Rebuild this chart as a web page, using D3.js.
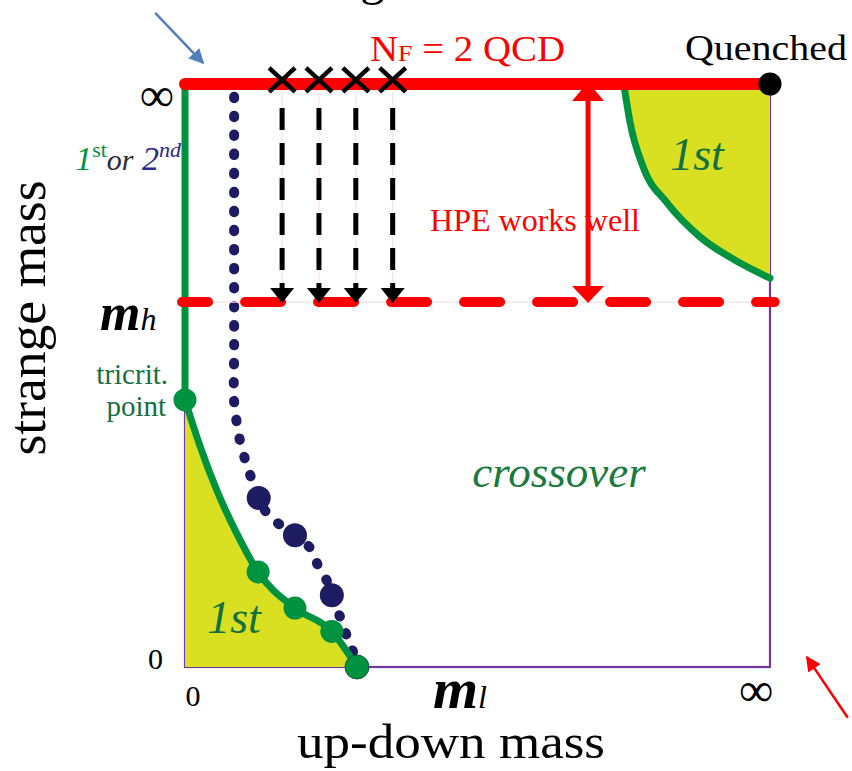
<!DOCTYPE html>
<html>
<head>
<meta charset="utf-8">
<script src="https://cdn.jsdelivr.net/npm/d3@7"></script>
<style>
  body { margin: 0; background: #fff; }
</style>
</head>
<body>
<svg id="canvas"></svg>
<script>
const WIDTH = 852;
const HEIGHT = 771;
const SERIF = "'Liberation Serif', 'DejaVu Serif', serif";

// axes run 0..100 (0 = zero mass, 100 = infinite mass)
const mh = 62.6;

const lowerCurve = [
  [0, 45.8], [2.6, 37.8], [5.4, 30.4], [8.8, 23.0], [12.5, 16.3],
  [18.8, 10.1], [25.1, 6.1], [29.4, 0],
];
const lowerCurveDots = [
  [0, 45.8], [12.5, 16.3], [18.8, 10.1], [25.1, 6.1], [29.4, 0],
];

const upperCurve = [
  [75.0, 100], [76.1, 93.3], [78.3, 85.8], [82.4, 79.6], [88.0, 73.8],
  [94.9, 69.3], [100, 66.7],
];

const secondOrderLine = [
  [8.4, 97.8], [8.4, 55.1], [8.4, 45.5], [8.8, 42.2], [9.4, 38.8],
  [10.3, 35.5], [11.4, 32.2], [12.6, 29.0], [14.0, 26.4], [16.2, 24.4],
  [18.8, 22.6], [21.4, 20.4], [22.7, 17.5], [24.2, 14.9], [25.1, 12.3],
  [26.5, 8.6], [27.6, 5.5], [28.5, 3.4], [29.2, 0],
];
const secondOrderDots = [[12.6, 29.0], [18.8, 22.6], [25.1, 12.3]];

const crossMasses = [16.6, 22.9, 29.2, 35.5];
const hpeArrowMass = 68.9;

const xTicks = [0, 47, 100];
const xTickLabels = ["0", "m_l", "∞"];
const yTicks = [0, mh, 100];
const yTickLabels = ["0", "m_h", "∞"];

const RED = "#ff0000";
const GREEN = "#00933f";
const NAVY = "#1d1b62";
const YELLOW = "#d9e021";
const PURPLE = "#7038a0";
const TEXT_GREEN = "#137040";

const canvas = d3
  .select("#canvas")
  .attr("width", WIDTH)
  .attr("height", HEIGHT)
  .attr("font-family", SERIF);

const xScale = d3.scaleLinear().domain([0, 100]).range([185, 770]);
const yScale = d3.scaleLinear().domain([0, 100]).range([667, 84]);

const line = d3.line().x((d) => xScale(d[0])).y((d) => yScale(d[1]));

// frame
canvas
  .append("rect")
  .attr("x", xScale(0))
  .attr("y", yScale(100))
  .attr("width", xScale(100) - xScale(0))
  .attr("height", yScale(0) - yScale(100))
  .attr("fill", "none")
  .attr("stroke", PURPLE)
  .attr("stroke-width", 2.2);

// first order regions
canvas
  .append("path")
  .attr("d", line.curve(d3.curveMonotoneX)([[0, 0], ...lowerCurve]))
  .attr("fill", YELLOW);

canvas
  .append("path")
  .attr("d", line.curve(d3.curveMonotoneX)([...upperCurve, [100, 100]]))
  .attr("fill", YELLOW);

// 2nd order line (dotted)
canvas
  .append("path")
  .attr("d", line.curve(d3.curveCatmullRom)(secondOrderLine))
  .attr("fill", "none")
  .attr("stroke", NAVY)
  .attr("stroke-width", 10)
  .attr("stroke-linecap", "round")
  .attr("stroke-dasharray", "1.5,17.5");

// green boundaries
canvas
  .append("line")
  .attr("x1", xScale(0))
  .attr("x2", xScale(0))
  .attr("y1", yScale(100))
  .attr("y2", yScale(lowerCurve[0][1]))
  .attr("stroke", GREEN)
  .attr("stroke-width", 7);

canvas
  .append("path")
  .attr("d", line.curve(d3.curveMonotoneX)(lowerCurve))
  .attr("fill", "none")
  .attr("stroke", GREEN)
  .attr("stroke-width", 7);

canvas
  .append("path")
  .attr("d", line.curve(d3.curveMonotoneX)(upperCurve))
  .attr("fill", "none")
  .attr("stroke", GREEN)
  .attr("stroke-width", 7)
  .attr("stroke-linecap", "round");

// m_h dashed line
canvas
  .append("line")
  .attr("x1", xScale(0))
  .attr("x2", xScale(100))
  .attr("y1", yScale(mh))
  .attr("y2", yScale(mh))
  .attr("stroke", "#f3e4e4")
  .attr("stroke-width", 1.2);

canvas
  .append("line")
  .attr("x1", xScale(-0.5))
  .attr("x2", xScale(100.8))
  .attr("y1", yScale(mh))
  .attr("y2", yScale(mh))
  .attr("stroke", RED)
  .attr("stroke-width", 10)
  .attr("stroke-linecap", "round")
  .attr("stroke-dasharray", "36,37")
  .attr("stroke-dashoffset", 10);

// N_F = 2 line
canvas
  .append("line")
  .attr("x1", xScale(0))
  .attr("x2", xScale(100))
  .attr("y1", yScale(100))
  .attr("y2", yScale(100))
  .attr("stroke", RED)
  .attr("stroke-width", 12)
  .attr("stroke-linecap", "round");

// hopping parameter expansion arrows
const arrowHead = (cx, tipY, dir, half, len) => {
  const p = d3.path();
  p.moveTo(cx, tipY);
  p.lineTo(cx - half, tipY - dir * len);
  p.lineTo(cx + half, tipY - dir * len);
  p.closePath();
  return p.toString();
};

crossMasses.forEach((m) => {
  const cx = xScale(m);
  canvas
    .append("line")
    .attr("x1", cx)
    .attr("x2", cx)
    .attr("y1", yScale(100) + 8)
    .attr("y2", yScale(mh))
    .attr("stroke", "#f3e4e4")
    .attr("stroke-width", 1.2);
  canvas
    .append("line")
    .attr("x1", cx)
    .attr("x2", cx)
    .attr("y1", yScale(100) + 24)
    .attr("y2", yScale(mh) - 12)
    .attr("stroke", "#000")
    .attr("stroke-width", 5)
    .attr("stroke-dasharray", "22,13");
  canvas
    .append("path")
    .attr("d", arrowHead(cx, yScale(mh) + 1, 1, 12, 15))
    .attr("fill", "#000");
});

const crosses = canvas.append("g");
crossMasses.forEach((m) => {
  const cx = xScale(m);
  const cy = yScale(100.7);
  [[-1, -1, 1, 1], [-1, 1, 1, -1]].forEach((k) => {
    crosses
      .append("line")
      .attr("x1", cx + k[0] * 13)
      .attr("y1", cy + k[1] * 12)
      .attr("x2", cx + k[2] * 13)
      .attr("y2", cy + k[3] * 12)
      .attr("stroke", "#000")
      .attr("stroke-width", 4.5);
  });
});

// HPE works well arrow
const hx = xScale(hpeArrowMass);
canvas
  .append("line")
  .attr("x1", hx)
  .attr("x2", hx)
  .attr("y1", yScale(100) + 14)
  .attr("y2", yScale(mh) - 14)
  .attr("stroke", RED)
  .attr("stroke-width", 5);
canvas.append("path").attr("d", arrowHead(hx, yScale(100) - 2, -1, 16, 19)).attr("fill", RED);
canvas.append("path").attr("d", arrowHead(hx, yScale(mh) + 1, 1, 16, 17)).attr("fill", RED);

// dots
canvas
  .selectAll(".so-dot")
  .data(secondOrderDots)
  .enter()
  .append("circle")
  .attr("class", "so-dot")
  .attr("cx", (d) => xScale(d[0]))
  .attr("cy", (d) => yScale(d[1]))
  .attr("r", 12)
  .attr("fill", NAVY);

canvas
  .selectAll(".fo-dot")
  .data(lowerCurveDots)
  .enter()
  .append("circle")
  .attr("class", "fo-dot")
  .attr("cx", (d) => xScale(d[0]))
  .attr("cy", (d) => yScale(d[1]))
  .attr("r", (d, i) => (i === lowerCurveDots.length - 1 ? 12 : 11.5))
  .attr("fill", GREEN)
  .attr("stroke", (d, i) => (i === lowerCurveDots.length - 1 ? "#14553a" : "none"))
  .attr("stroke-width", 1);

canvas
  .append("circle")
  .attr("cx", xScale(100))
  .attr("cy", yScale(100))
  .attr("r", 11.5)
  .attr("fill", "#000");

// tick labels
const drawMassLabel = (sel, label, big, small) => {
  if (label === "m_l" || label === "m_h") {
    sel.append("tspan").text("m").attr("font-weight", "bold").attr("font-style", "italic").attr("font-size", big);
    sel.append("tspan").text(label.slice(2)).attr("font-style", "italic").attr("font-size", small);
  } else {
    sel.text(label);
  }
};

xTicks.forEach((t, i) => {
  const lab = xTickLabels[i];
  const txt = canvas
    .append("text")
    .attr("x", xScale(t) + (i === 0 ? 8 : i === 2 ? -14 : 0))
    .attr("y", i === 1 ? 708 : 706)
    .attr("text-anchor", "middle")
    .attr("font-size", lab === "∞" ? 48 : 30)
    .attr("fill", "#000");
  drawMassLabel(txt, lab, 58, 32);
});

yTicks.forEach((t, i) => {
  const lab = yTickLabels[i];
  const txt = canvas
    .append("text")
    .attr("x", i === 1 ? 100 : i === 2 ? 174 : 163)
    .attr("y", yScale(t) + (i === 0 ? 2 : i === 1 ? 28 : 27))
    .attr("text-anchor", i === 1 ? "start" : "end")
    .attr("font-size", lab === "∞" ? 48 : 30)
    .attr("fill", "#000");
  drawMassLabel(txt, lab, 52, 32);
});

// axis titles
canvas
  .append("text")
  .attr("x", 451)
  .attr("y", 758)
  .attr("text-anchor", "middle")
  .attr("font-size", 48)
  .attr("textLength", 308)
  .attr("lengthAdjust", "spacingAndGlyphs")
  .text("up-down mass");

canvas
  .append("text")
  .attr("transform", "translate(45, 318) rotate(-90)")
  .attr("text-anchor", "middle")
  .attr("font-size", 52)
  .attr("textLength", 275)
  .attr("lengthAdjust", "spacingAndGlyphs")
  .text("strange mass");

// annotations
const nf = canvas
  .append("text")
  .attr("x", 370)
  .attr("y", 61)
  .attr("font-size", 36)
  .attr("fill", RED)
  .attr("textLength", 195)
  .attr("lengthAdjust", "spacingAndGlyphs");
nf.append("tspan").text("N");
nf.append("tspan").attr("font-size", 24).text("F");
nf.append("tspan").text(" = 2 QCD");

canvas
  .append("text")
  .attr("x", 685)
  .attr("y", 60)
  .attr("font-size", 36)
  .attr("textLength", 162)
  .attr("lengthAdjust", "spacingAndGlyphs")
  .text("Quenched");

canvas
  .append("text")
  .attr("x", 430)
  .attr("y", 231)
  .attr("font-size", 32)
  .attr("fill", RED)
  .attr("textLength", 210)
  .attr("lengthAdjust", "spacingAndGlyphs")
  .text("HPE works well");

const order = canvas.append("text").attr("x", 181).attr("y", 170).attr("text-anchor", "end").attr("font-size", 34);
order.append("tspan").attr("font-style", "italic").attr("fill", GREEN).text("1");
order.append("tspan").attr("fill", GREEN).attr("font-size", 22).attr("dy", -13).text("st");
order.append("tspan").attr("font-style", "italic").attr("fill", "#2a2a3a").attr("font-size", 30).attr("dy", 13).text("or");
order.append("tspan").attr("font-style", "italic").attr("fill", "#2b2a88").text(" 2");
order.append("tspan").attr("font-style", "italic").attr("fill", "#2b2a88").attr("font-size", 22).attr("dy", -13).text("nd");

canvas
  .append("text")
  .attr("x", 168)
  .attr("y", 384)
  .attr("text-anchor", "end")
  .attr("font-size", 29)
  .attr("fill", TEXT_GREEN)
  .text("tricrit.");
canvas
  .append("text")
  .attr("x", 166)
  .attr("y", 416)
  .attr("text-anchor", "end")
  .attr("font-size", 29)
  .attr("fill", TEXT_GREEN)
  .text("point");

canvas
  .append("text")
  .attr("x", 234)
  .attr("y", 633)
  .attr("text-anchor", "middle")
  .attr("font-size", 46)
  .attr("font-style", "italic")
  .attr("fill", TEXT_GREEN)
  .text("1st");

canvas
  .append("text")
  .attr("x", 697)
  .attr("y", 170)
  .attr("text-anchor", "middle")
  .attr("font-size", 46)
  .attr("font-style", "italic")
  .attr("fill", TEXT_GREEN)
  .text("1st");

canvas
  .append("text")
  .attr("x", 559)
  .attr("y", 487)
  .attr("text-anchor", "middle")
  .attr("font-size", 45)
  .attr("font-style", "italic")
  .attr("fill", "#1a7a3e")
  .text("crossover");

// cut-off title fragment
canvas.append("text").attr("x", 360).attr("y", -6).attr("font-size", 50).text("g");

// pointer arrows in the margins
const defs = canvas.append("defs");
[["blue-head", "#4f81bd"], ["red-head", RED]].forEach((m) => {
  defs
    .append("marker")
    .attr("id", m[0])
    .attr("viewBox", "0 0 10 10")
    .attr("refX", 9)
    .attr("refY", 5)
    .attr("markerWidth", 6)
    .attr("markerHeight", 6)
    .attr("orient", "auto")
    .append("path")
    .attr("d", "M0,0 L10,5 L0,10 Z")
    .attr("fill", m[1]);
});

canvas
  .append("line")
  .attr("x1", xScale(-5.1))
  .attr("y1", yScale(112.2))
  .attr("x2", xScale(3.1))
  .attr("y2", yScale(103.6))
  .attr("stroke", "#4f81bd")
  .attr("stroke-width", 2.5)
  .attr("marker-end", "url(#blue-head)");

canvas
  .append("line")
  .attr("x1", xScale(113.3))
  .attr("y1", yScale(-8.7))
  .attr("x2", xScale(106.3))
  .attr("y2", yScale(1.7))
  .attr("stroke", RED)
  .attr("stroke-width", 2.5)
  .attr("marker-end", "url(#red-head)");
</script>
</body>
</html>
